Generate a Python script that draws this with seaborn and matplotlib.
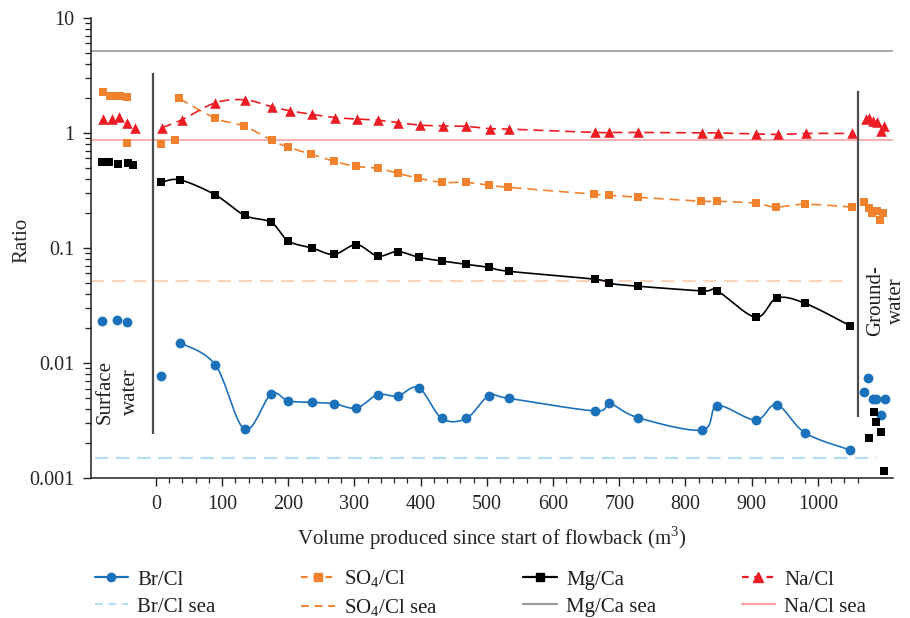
import numpy as np
import matplotlib
matplotlib.use("Agg")
import matplotlib.pyplot as plt
from matplotlib import ticker
from matplotlib.lines import Line2D
import seaborn as sns

# ---------------- data ----------------
# flowback samples (volume in m3)
br_x = [8, 37, 90, 134, 174, 200, 236, 269, 303, 335, 365, 397, 432, 469, 503,
        533, 664, 684, 728, 825, 848, 906, 938, 981, 1049]
br_cl = [0.00776, 0.0150, 0.0096, 0.00265, 0.00537, 0.00468, 0.00455, 0.00443,
         0.00406, 0.00530, 0.00516, 0.00610, 0.00330, 0.00330, 0.00520, 0.00493,
         0.00383, 0.00449, 0.00335, 0.00261, 0.00425, 0.00319, 0.00434, 0.00246,
         0.00175]

mg_x = [8, 37, 90, 134, 174, 200, 236, 269, 303, 335, 365, 397, 432, 469, 503,
        533, 664, 684, 728, 825, 848, 906, 938, 981, 1049]
mg_ca = [0.373, 0.390, 0.289, 0.192, 0.167, 0.115, 0.100, 0.088, 0.107, 0.085,
         0.093, 0.083, 0.077, 0.0721, 0.0679, 0.0627, 0.0534, 0.0493, 0.0465,
         0.0423, 0.0423, 0.025, 0.0367, 0.0330, 0.021]

na_x = [9, 39, 90, 135, 175, 202, 236, 271, 304, 336, 366, 399, 433, 469, 504,
        533, 664, 685, 728, 825, 849, 907, 939, 982, 1051]
na_cl = [1.11, 1.30, 1.83, 1.94, 1.69, 1.56, 1.45, 1.36, 1.32, 1.29, 1.23, 1.17,
         1.15, 1.14, 1.09, 1.08, 1.01, 1.01, 1.01, 1.00, 1.00, 0.98, 0.97, 0.99,
         0.99]

so4_x = [8, 29, 35, 90, 133, 175, 200, 235, 269, 302, 335, 365, 396, 432, 469,
         503, 532, 662, 684, 728, 824, 848, 906, 936, 981, 1051]
so4_cl = [0.80, 0.86, 2.0, 1.34, 1.15, 0.864, 0.751, 0.653, 0.567, 0.513, 0.493,
          0.446, 0.404, 0.372, 0.372, 0.351, 0.337, 0.293, 0.287, 0.276, 0.255,
          0.255, 0.245, 0.227, 0.240, 0.227]

# surface water samples
sw_br_x = [-81, -58, -44]
sw_br = [0.0233, 0.0238, 0.0228]
sw_so4_x = [-80, -69, -62, -54, -44, -43]
sw_so4 = [2.29, 2.10, 2.10, 2.10, 2.04, 0.81]
sw_mg_x = [-81, -71, -57, -42, -34]
sw_mg = [0.556, 0.556, 0.538, 0.545, 0.524]
sw_na_x = [-80, -67, -56, -43, -32]
sw_na = [1.32, 1.32, 1.37, 1.21, 1.10]

# groundwater samples
gw_br_x = [1070, 1076, 1083, 1088, 1096, 1102]
gw_br = [0.00562, 0.00745, 0.00486, 0.00490, 0.00353, 0.00490]
gw_so4_x = [1070, 1077, 1081, 1089, 1094, 1099]
gw_so4 = [0.251, 0.221, 0.200, 0.211, 0.175, 0.200]
gw_mg_x = [1077, 1084, 1088, 1096, 1100]
gw_mg = [0.00221, 0.00373, 0.00305, 0.00253, 0.00114]
gw_na_x = [1072, 1077, 1083, 1089, 1095, 1100]
gw_na = [1.32, 1.36, 1.28, 1.25, 1.04, 1.16]

# seawater reference ratios
sea_br, sea_so4, sea_mg, sea_na = 0.0015, 0.052, 5.2, 0.86

# ---------------- style ----------------
sns.set_style("ticks")
plt.rcParams["font.family"] = ["Liberation Serif", "DejaVu Serif"]
plt.rcParams["mathtext.fontset"] = "custom"
plt.rcParams["mathtext.rm"] = "Liberation Serif"
plt.rcParams["text.color"] = "#231f20"

FS = 15
FS_TICK = 14.5
C_BR, C_SO4, C_MG, C_NA = "#1b72bb", "#f0822e", "#000000", "#ec1c24"
C_BR_SEA, C_SO4_SEA, C_MG_SEA, C_NA_SEA = "#b3def3", "#fbd5bb", "#9a9a9a", "#f4a3a3"


def smooth(x, y, n=24):
    """Catmull-Rom style Bezier smoothing in (x, log y) space."""
    P = np.column_stack([np.asarray(x, float), np.log10(np.asarray(y, float))])
    E = np.vstack([P[0], P, P[-1]])
    segs = []
    for i in range(len(P) - 1):
        p0, p1, p2, p3 = E[i], E[i + 1], E[i + 2], E[i + 3]
        c1 = p1 + (p2 - p0) / 6.0
        c2 = p2 - (p3 - p1) / 6.0
        t = np.linspace(0, 1, n, endpoint=(i == len(P) - 2))[:, None]
        segs.append((1 - t) ** 3 * p1 + 3 * (1 - t) ** 2 * t * c1
                    + 3 * (1 - t) * t ** 2 * c2 + t ** 3 * p2)
    Q = np.vstack(segs)
    return Q[:, 0], 10 ** Q[:, 1]


fig = plt.figure(figsize=(9.1, 6.18), dpi=100)
ax = fig.add_axes([0.1, 0.2265, 0.881, 0.7445])
ax.set_yscale("log")
ax.set_xlim(-98, 1113)
ax.set_ylim(0.001, 10)

# seawater reference lines
ax.hlines(sea_mg, -98, 1113, color=C_MG_SEA, lw=1.2, zorder=1)
ax.hlines(sea_na, -98, 1113, color=C_NA_SEA, lw=1.2, zorder=1)
ax.hlines(sea_so4, -98, 1036, color=C_SO4_SEA, lw=1.6, linestyles=(0, (6, 3.5)), zorder=1)
ax.hlines(sea_br, -92, 1089, color=C_BR_SEA, lw=1.6, linestyles=(0, (6, 3.5)), zorder=1)

# separators between surface water / flowback / groundwater
ax.vlines(-5, 0.0024, 3.3, color="#4d4d4d", lw=1.6, zorder=2)
ax.vlines(1060, 0.0034, 2.32, color="#4d4d4d", lw=1.6, zorder=2)

# smoothed flowback trends
series = [
    (br_x[1:], br_cl[1:], C_BR, "-"),
    (so4_x[2:], so4_cl[2:], C_SO4, (0, (6, 3.5))),
    (mg_x, mg_ca, C_MG, "-"),
    (na_x, na_cl, C_NA, (0, (6, 3.5))),
]
for xs, ys, col, ls in series:
    sx, sy = smooth(xs, ys)
    sns.lineplot(x=sx, y=sy, sort=False, estimator=None, color=col, lw=1.2,
                 ax=ax, legend=False, zorder=2)
    ax.lines[-1].set_linestyle(ls)

# sample markers
marker_sets = [
    (br_x + sw_br_x + gw_br_x, br_cl + sw_br + gw_br, C_BR, "o", 50),
    (so4_x + sw_so4_x + gw_so4_x, so4_cl + sw_so4 + gw_so4, C_SO4, "s", 38),
    (mg_x + sw_mg_x + gw_mg_x, mg_ca + sw_mg + gw_mg, C_MG, "s", 38),
    (na_x + sw_na_x + gw_na_x, na_cl + sw_na + gw_na, C_NA, "^", 58),
]
for xs, ys, col, mk, size in marker_sets:
    sns.scatterplot(x=xs, y=ys, color=col, marker=mk, s=size, linewidth=0,
                    ax=ax, legend=False, zorder=3)

# annotations
ax.text(-57, 0.0056, "Surface\nwater", rotation=90, ha="center", va="center",
        multialignment="center", fontsize=FS, linespacing=1.45)
ax.text(1103, 0.035, "Ground-\nwater", rotation=90, ha="center", va="center",
        multialignment="center", fontsize=FS, linespacing=1.1)

# axes styling
sns.despine(ax=ax)
for sp in ("left", "bottom"):
    ax.spines[sp].set_linewidth(1.1)
    ax.spines[sp].set_color("#231f20")

ax.xaxis.set_major_locator(ticker.FixedLocator(np.arange(0, 1001, 100)))
ax.xaxis.set_minor_locator(ticker.FixedLocator(
    [v for v in range(0, 1061, 20) if v % 100 != 0]))
ax.yaxis.set_major_locator(ticker.LogLocator(base=10, numticks=10))
ax.yaxis.set_minor_locator(ticker.LogLocator(base=10, subs=np.arange(2, 10), numticks=20))
ax.yaxis.set_major_formatter(ticker.FuncFormatter(lambda v, p: f"{v:g}"))
ax.yaxis.set_minor_formatter(ticker.NullFormatter())

ax.tick_params(axis="both", which="major", direction="out", length=6, width=1.0,
               labelsize=FS_TICK, color="#231f20", pad=6)
ax.tick_params(axis="y", which="minor", direction="out", length=4.3, width=0.9,
               color="#231f20")
ax.tick_params(axis="x", which="minor", direction="out", length=3.6, width=0.9,
               color="#231f20")

ax.set_xlabel(r"Volume produced since start of flowback (m$^\mathregular{3}$)",
              fontsize=FS, labelpad=8)
ax.set_ylabel("Ratio", fontsize=FS)
ax.yaxis.set_label_coords(-0.074, 0.517)

# legend
handles = [
    Line2D([], [], color=C_BR, lw=1.6, marker="o", ms=6),
    Line2D([], [], color=C_BR_SEA, lw=1.4, ls=(0, (4, 3))),
    Line2D([], [], color=C_SO4, lw=1.6, ls=(0, (3, 2.5)), marker="s", ms=5.5),
    Line2D([], [], color=C_SO4, lw=1.4, ls=(0, (4, 3))),
    Line2D([], [], color=C_MG, lw=1.6, marker="s", ms=5.5),
    Line2D([], [], color=C_MG_SEA, lw=1.6),
    Line2D([], [], color=C_NA, lw=1.6, ls=(0, (3, 2.5)), marker="^", ms=6.5),
    Line2D([], [], color=C_NA_SEA, lw=1.6),
]
labels = ["Br/Cl", "Br/Cl sea",
          r"SO$_\mathregular{4}$/Cl", r"SO$_\mathregular{4}$/Cl sea",
          "Mg/Ca", "Mg/Ca sea",
          "Na/Cl", "Na/Cl sea"]
fig.legend(handles, labels, ncol=4, loc="center", bbox_to_anchor=(0.528, 0.039),
           frameon=False, fontsize=FS, handlelength=1.6, handletextpad=0.45,
           columnspacing=4.1, labelspacing=0.35)

fig.savefig("out.png", dpi=100)
